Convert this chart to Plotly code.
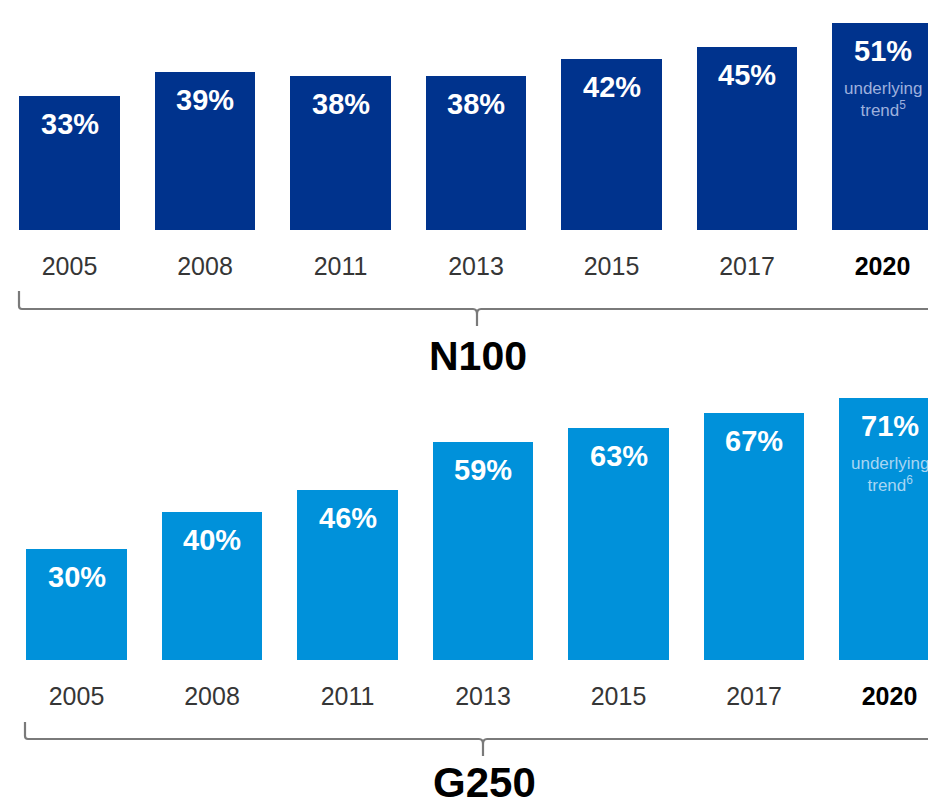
import plotly.graph_objects as go

years = ["2005", "2008", "2011", "2013", "2015", "2017", "2020"]
n100_values = [33, 39, 38, 38, 42, 45, 51]
g250_values = [30, 40, 46, 59, 63, 67, 71]
n100_note = "underlying<br>trend<sup>5</sup>"
g250_note = "underlying<br>trend<sup>6</sup>"
panel_titles = ["N100", "G250"]

W, H = 928, 806
DARK = "#00338D"
LIGHT = "#0091DA"
FONT = "Liberation Sans, Arial, sans-serif"

def py(px):
    return 1 - px / H

fig = go.Figure()
fig.add_trace(go.Bar(x=years, y=n100_values, marker=dict(color=DARK, line=dict(width=0)),
                     width=0.745, xaxis="x", yaxis="y", hoverinfo="skip"))
fig.add_trace(go.Bar(x=years, y=g250_values, marker=dict(color=LIGHT, line=dict(width=0)),
                     width=0.745, xaxis="x2", yaxis="y2", hoverinfo="skip"))

ticktext = [f"<b style='color:#000'>{y}</b>" if y == "2020" else y for y in years]

axis_common = dict(type="category", showgrid=False, zeroline=False, showline=False, ticks="",
                   tickmode="array", tickvals=years, ticktext=ticktext,
                   tickfont=dict(family=FONT, size=25, color="#363636"),
                   ticklabelstandoff=19, fixedrange=True)

annotations = []
for ax, vals, note, note_color in [("", n100_values, n100_note, "#9DB0DD"),
                                   ("2", g250_values, g250_note, "#A8D6F3")]:
    for i, v in enumerate(vals):
        annotations.append(dict(x=i, y=v, xref="x" + ax, yref="y" + ax,
                                text=f"<b>{v}%</b>", showarrow=False, yanchor="top",
                                yshift=-10, font=dict(family=FONT, size=29, color="white")))
    annotations.append(dict(x=len(vals) - 1, y=vals[-1], xref="x" + ax, yref="y" + ax,
                            text=note, showarrow=False, yanchor="top", yshift=-54,
                            font=dict(family=FONT, size=17, color=note_color)))

annotations.append(dict(x=478 / W, y=py(356), xref="paper", yref="paper", text=f"<b>{panel_titles[0]}</b>",
                        showarrow=False, font=dict(family=FONT, size=41, color="black")))
annotations.append(dict(x=484 / W, y=py(808), xref="paper", yref="paper", text=f"<b>{panel_titles[1]}</b>",
                        yanchor="bottom", showarrow=False, font=dict(family=FONT, size=42, color="black")))

def brace(x0, ytop, yline, xc, ydown):
    X = lambda p: p / W
    Y = lambda p: py(p)
    return (f"M {X(x0)},{Y(ytop)} L {X(x0)},{Y(yline-3)} Q {X(x0)},{Y(yline)} {X(x0+3)},{Y(yline)} "
            f"L {X(xc-4)},{Y(yline)} Q {X(xc)},{Y(yline)} {X(xc)},{Y(yline+5)} L {X(xc)},{Y(ydown)} "
            f"M {X(xc)},{Y(yline+5)} Q {X(xc)},{Y(yline)} {X(xc+4)},{Y(yline)} L {X(W+5)},{Y(yline)}")

shapes = [
    dict(type="path", xref="paper", yref="paper", path=brace(19, 291, 309, 477, 326),
         line=dict(color="#7a7a7a", width=2.2)),
    dict(type="path", xref="paper", yref="paper", path=brace(25, 722, 739, 483, 756),
         line=dict(color="#7a7a7a", width=2.2)),
]

top_scale = 4.06
bot_scale = 3.69
fig.update_layout(
    width=W, height=H, margin=dict(l=0, r=0, t=0, b=0),
    paper_bgcolor="white", plot_bgcolor="white", showlegend=False,
    bargap=0,
    xaxis=dict(domain=[0, 1], range=[-69.5 / 135.5, (W - 69.5) / 135.5], anchor="y", **axis_common),
    yaxis=dict(domain=[py(230), 1], range=[0, 230 / top_scale], visible=False, anchor="x", fixedrange=True),
    xaxis2=dict(domain=[0, 1], range=[-76.5 / 135.5, (W - 76.5) / 135.5], anchor="y2", **axis_common),
    yaxis2=dict(domain=[py(660), py(380)], range=[0, 280 / bot_scale], visible=False, anchor="x2", fixedrange=True),
    annotations=annotations, shapes=shapes,
)

fig.write_html("out.html", config={"displayModeBar": False},
               post_script="document.body.style.margin='0';document.body.style.overflow='hidden';")
